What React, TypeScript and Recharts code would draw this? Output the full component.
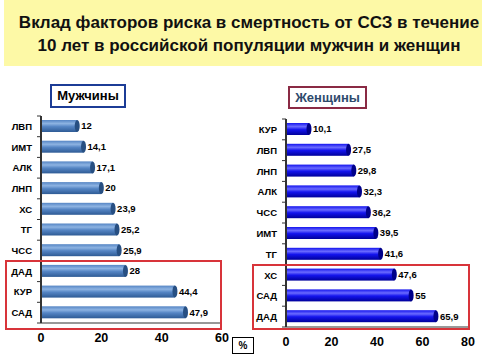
import { BarChart, Bar, XAxis, YAxis, LabelList } from 'recharts';

const menFactors = ['ЛВП', 'ИМТ', 'АЛК', 'ЛНП', 'ХС', 'ТГ', 'ЧСС', 'ДАД', 'КУР', 'САД'];
const menValues = [12, 14.1, 17.1, 20, 23.9, 25.2, 25.9, 28, 44.4, 47.9];
const menTicks = [0, 20, 40, 60];

const womenFactors = ['КУР', 'ЛВП', 'ЛНП', 'АЛК', 'ЧСС', 'ИМТ', 'ТГ', 'ХС', 'САД', 'ДАД'];
const womenValues = [10.1, 27.5, 29.8, 32.3, 36.2, 39.5, 41.6, 47.6, 55, 65.9];
const womenTicks = [0, 20, 40, 60, 80];

const menData = menFactors.map((f, i) => ({ factor: f, value: menValues[i] }));
const womenData = womenFactors.map((f, i) => ({ factor: f, value: womenValues[i] }));

const FONT = '"Liberation Sans", Arial, sans-serif';

const fmt = (v: number) => String(v).replace('.', ',');

function makeCylinder(gradId: string, capColor: string) {
  return (props: any) => {
    const { x, y, width, height } = props;
    if (!width || width <= 0) return null;
    return (
      <g>
        <rect x={x} y={y} width={width} height={height} fill={`url(#${gradId})`} />
        <ellipse cx={x + width} cy={y + height / 2} rx={2.5} ry={height / 2} fill={capColor} />
      </g>
    );
  };
}

function makeYTick(band: number, count: number) {
  return (props: any) => {
    const { x, y, payload, index } = props;
    const axisX = x + 8;
    return (
      <g>
        <text x={x - 1} y={y} dy={3.5} textAnchor="end" fontFamily={FONT} fontWeight="bold" fontSize={9.5} fill="#000">
          {payload.value}
        </text>
        <line x1={axisX - 4} x2={axisX} y1={y - band / 2} y2={y - band / 2} stroke="#333" />
        {index === count - 1 && (
          <line x1={axisX - 4} x2={axisX} y1={y + band / 2} y2={y + band / 2} stroke="#333" />
        )}
      </g>
    );
  };
}

function XTick(props: any) {
  const { x, y, payload } = props;
  return (
    <text x={x} y={y} dy={11} textAnchor="middle" fontFamily={FONT} fontWeight="bold" fontSize={12.5} fill="#000">
      {payload.value}
    </text>
  );
}

function Gradients({ id, top, mid, bottom }: { id: string; top: string; mid: string; bottom: string }) {
  return (
    <defs>
      <linearGradient id={id} x1="0" y1="0" x2="0" y2="1">
        <stop offset="0%" stopColor={mid} />
        <stop offset="30%" stopColor={top} />
        <stop offset="55%" stopColor={mid} />
        <stop offset="100%" stopColor={bottom} />
      </linearGradient>
    </defs>
  );
}

const labelStyle = { fontFamily: FONT, fontWeight: 'bold', fontSize: 9.5, fill: '#000' };

export default function App() {
  return (
    <div style={{ position: 'absolute', left: 0, top: 0, width: 490, height: 359, background: '#fff', fontFamily: FONT, overflow: 'hidden' }}>
      <div style={{ position: 'absolute', left: 4, top: 0, width: 478, height: 66, background: '#fdf9a6' }} />
      <div style={{ position: 'absolute', left: 0, top: 11, width: 498, textAlign: 'center', fontWeight: 'bold', fontSize: 17, lineHeight: '23px', color: '#111' }}>
        Вклад факторов риска в смертность от ССЗ в течение
        <br />
        10 лет в российской популяции мужчин и женщин
      </div>

      <div style={{ position: 'absolute', left: 50, top: 84, width: 72, height: 20, border: '2px solid #1c3c96', textAlign: 'center', fontWeight: 'bold', fontSize: 13, lineHeight: '20px', color: '#000' }}>
        Мужчины
      </div>
      <div style={{ position: 'absolute', left: 288, top: 86, width: 75, height: 19, border: '2px solid #8a2a44', textAlign: 'center', fontWeight: 'bold', fontSize: 13, lineHeight: '19px', color: '#2e4a6c' }}>
        Женщины
      </div>

      <div style={{ position: 'absolute', left: 0, top: 0 }}>
        <BarChart width={245} height={359} data={menData} layout="vertical" margin={{ top: 116, right: 23, bottom: 16, left: 0 }}>
          <Gradients id="menGrad" top="#8db3e2" mid="#5585c4" bottom="#2e5b95" />
          <XAxis type="number" domain={[0, 60]} ticks={menTicks} height={20} axisLine={{ stroke: '#333' }} tickLine={false} tick={<XTick />} />
          <YAxis type="category" dataKey="factor" width={41} interval={0} axisLine={{ stroke: '#333', strokeWidth: 2 }} tickLine={false} tick={makeYTick(20.7, 10)} />
          <Bar dataKey="value" barSize={12} isAnimationActive={false} shape={makeCylinder('menGrad', '#274f82')}>
            <LabelList dataKey="value" position="right" offset={4} formatter={(v: any) => fmt(v)} style={labelStyle} />
          </Bar>
        </BarChart>
      </div>

      <div style={{ position: 'absolute', left: 245, top: 0 }}>
        <BarChart width={245} height={359} data={womenData} layout="vertical" margin={{ top: 119, right: 22, bottom: 12, left: 0 }}>
          <Gradients id="womenGrad" top="#6a6aff" mid="#1414ee" bottom="#00009a" />
          <XAxis type="number" domain={[0, 80]} ticks={womenTicks} height={20} axisLine={{ stroke: '#333' }} tickLine={false} tick={<XTick />} />
          <YAxis type="category" dataKey="factor" width={41} interval={0} axisLine={{ stroke: '#333', strokeWidth: 2 }} tickLine={false} tick={makeYTick(20.8, 10)} />
          <Bar dataKey="value" barSize={12} isAnimationActive={false} shape={makeCylinder('womenGrad', '#00008a')}>
            <LabelList dataKey="value" position="right" offset={4} formatter={(v: any) => fmt(v)} style={labelStyle} />
          </Bar>
        </BarChart>
      </div>

      <div style={{ position: 'absolute', left: 5, top: 260, width: 213, height: 66, border: '2px solid #d8343a' }} />
      <div style={{ position: 'absolute', left: 252, top: 264, width: 214, height: 62, border: '2px solid #d8343a' }} />

      <div style={{ position: 'absolute', left: 232, top: 337, width: 20, height: 15, border: '1px solid #000', textAlign: 'center', fontWeight: 'bold', fontSize: 10, lineHeight: '15px' }}>
        %
      </div>
    </div>
  );
}
